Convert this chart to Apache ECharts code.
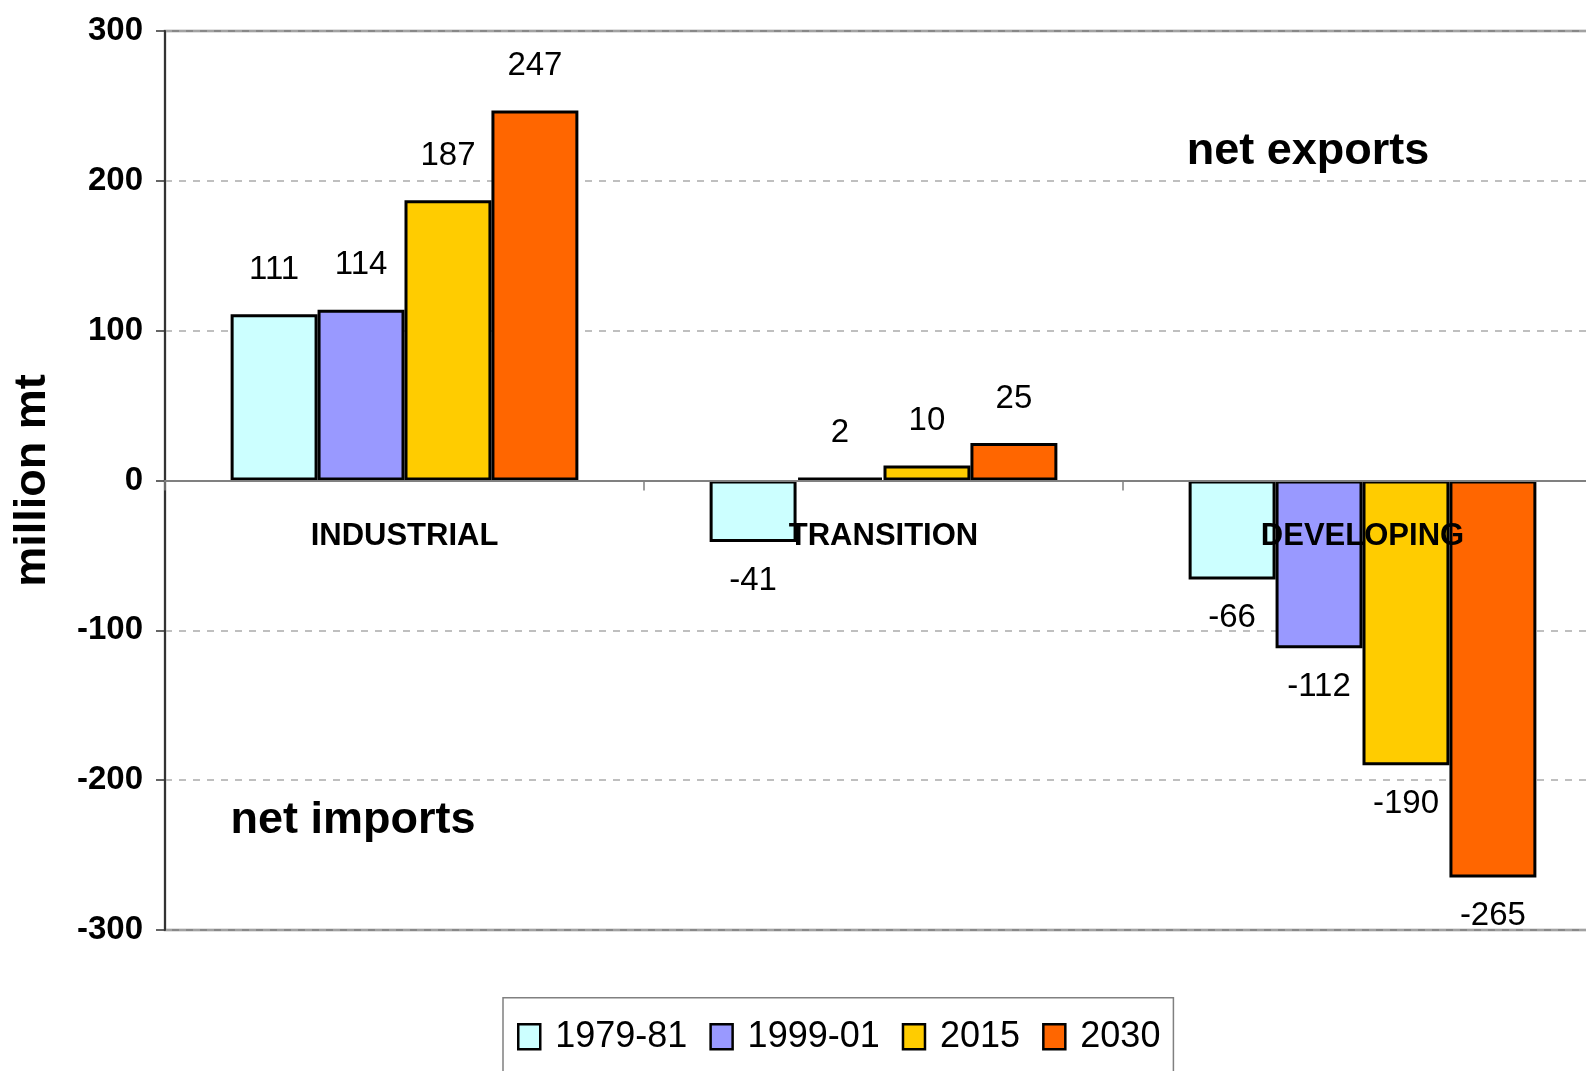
<!DOCTYPE html>
<html>
<head>
<meta charset="utf-8">
<script src="https://cdn.jsdelivr.net/npm/echarts@6/dist/echarts.min.js"></script>
<style>
html,body{margin:0;padding:0;background:#fff;}
#chart{width:1586px;height:1071px;}
</style>
</head>
<body>
<div id="chart"></div>
<script>
var categories = ['INDUSTRIAL', 'TRANSITION', 'DEVELOPING'];
var seriesNames = ['1979-81', '1999-01', '2015', '2030'];
var values1979 = [111, -41, -66];
var values1999 = [114, 2, -112];
var values2015 = [187, 10, -190];
var values2030 = [247, 25, -265];
var yTicks = [-300, -200, -100, 0, 100, 200, 300];
var colors = ['#CCFFFF', '#9999FF', '#FFCC00', '#FF6600'];
var annotations = ['net exports', 'net imports'];

var allValues = [values1979, values1999, values2015, values2030];
var sans = '"Liberation Sans", Arial, sans-serif';

var GRID_TOP = 31, GRID_H = 899, GRID_LEFT = 165, GRID_W = 1437;
var yMin = yTicks[0], yMax = yTicks[yTicks.length - 1];
// distance from grid bottom up to the zero line (derived from the axis range)
var zeroOffset = GRID_H * (0 - yMin) / (yMax - yMin);

function makeData(arr) {
  return arr.map(function (v) {
    return {
      value: v,
      label: v >= 0 ? { position: 'top', distance: 28 } : { position: 'bottom', distance: 22 }
    };
  });
}

var series = seriesNames.map(function (name, i) {
  return {
    name: name,
    type: 'bar',
    data: makeData(allValues[i]),
    barGap: '0%',
    barCategoryGap: '27.4%',
    itemStyle: { color: colors[i], borderColor: '#000', borderWidth: 3 },
    label: {
      show: true,
      color: '#000',
      fontFamily: sans,
      fontSize: 33,
      formatter: function (p) { return String(p.value); }
    }
  };
});

var chart = echarts.init(document.getElementById('chart'), null, { renderer: 'canvas' });
chart.setOption({
  animation: false,
  backgroundColor: '#fff',
  grid: {
    left: GRID_LEFT, top: GRID_TOP, width: GRID_W, height: GRID_H,
    outerBoundsMode: 'none',
    containLabel: false,
    show: true, borderColor: '#888', borderWidth: 2.5, backgroundColor: 'transparent'
  },
  legend: {
    data: seriesNames,
    left: 503, top: 997.7,
    orient: 'horizontal',
    padding: [21, 13, 40, 14],
    borderColor: '#808080', borderWidth: 1.5,
    itemWidth: 22, itemHeight: 25, itemGap: 22,
    icon: 'rect',
    itemStyle: { borderColor: '#000', borderWidth: 2.5 },
    textStyle: { fontFamily: sans, fontSize: 36, color: '#000', padding: [0, 0, 0, 10] }
  },
  xAxis: {
    type: 'category',
    data: categories,
    z: 10,
    offset: -zeroOffset,
    axisLine: { onZero: false, lineStyle: { color: '#808080', width: 2 } },
    axisTick: { show: true, length: 10, lineStyle: { color: '#808080', width: 1.5 } },
    axisLabel: { interval: 0, margin: 40, fontFamily: sans, fontWeight: 'bold', fontSize: 31, color: '#000' },
    splitLine: { show: false }
  },
  yAxis: {
    type: 'value',
    min: yMin, max: yMax, interval: 100,
    name: 'million mt',
    nameLocation: 'middle',
    nameGap: 110,
    nameTextStyle: { fontFamily: sans, fontWeight: 'bold', fontSize: 45, color: '#000' },
    axisLine: { show: true, lineStyle: { color: '#333', width: 2 } },
    axisTick: { show: true, length: 9, lineStyle: { color: '#333', width: 1.5 } },
    axisLabel: { margin: 22, fontFamily: sans, fontWeight: 'bold', fontSize: 33, color: '#000' },
    splitLine: { show: true, lineStyle: { color: '#aaa', width: 1.5, type: [7, 7] } }
  },
  graphic: [
    { type: 'text', x: 1308, y: 152, style: { text: annotations[0], font: 'bold 45px ' + sans, fill: '#000', align: 'center', verticalAlign: 'middle' } },
    { type: 'text', x: 353, y: 821, style: { text: annotations[1], font: 'bold 45px ' + sans, fill: '#000', align: 'center', verticalAlign: 'middle' } }
  ],
  series: series
});
</script>
</body>
</html>
